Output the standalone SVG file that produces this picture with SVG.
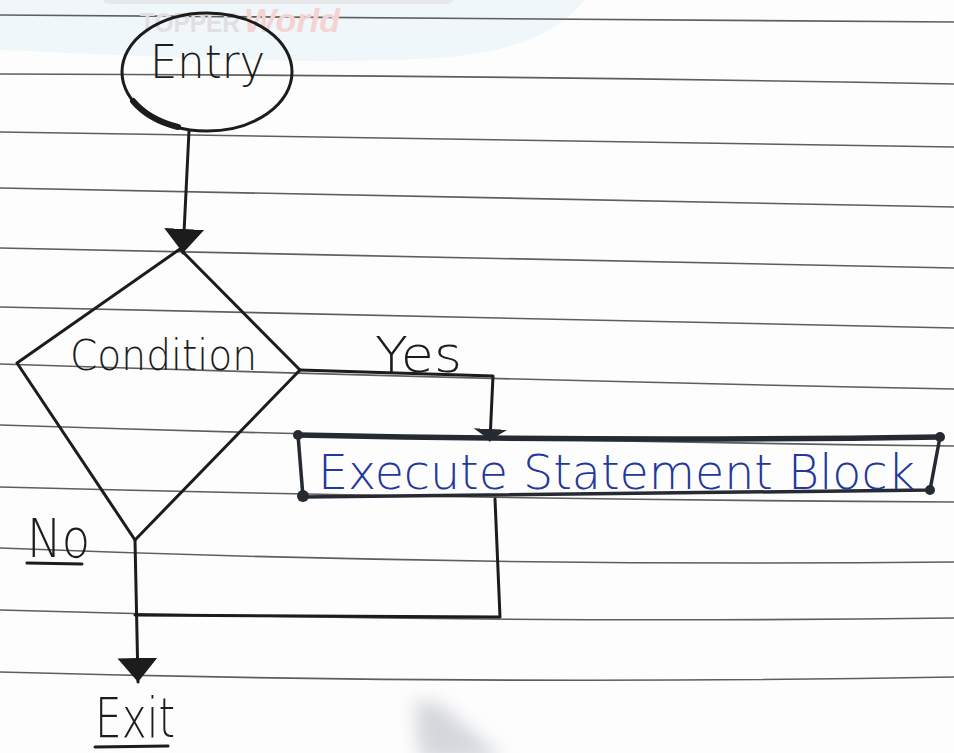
<svg xmlns="http://www.w3.org/2000/svg" width="954" height="753" viewBox="0 0 954 753">
  <defs>
    <style>
      .rule { fill: none; stroke: #5e5e5e; stroke-width: 1.6; }
      .ink { fill: none; stroke: #1c1c1c; stroke-width: 3; stroke-linecap: round; stroke-linejoin: round; }
      .box { fill: none; stroke: #262a33; stroke-width: 3.5; stroke-linecap: round; stroke-linejoin: round; }
      .dot { fill: #262a33; }
      .hand { font-family: "DejaVu Sans", "Liberation Sans", sans-serif; font-weight: 200; fill: #1c1c1c; }
      .blue { fill: #23379c; }
    </style>
    <marker id="head" viewBox="0 -21 26 42" refX="24" refY="0" markerWidth="26" markerHeight="42" markerUnits="userSpaceOnUse" orient="auto">
      <path d="M0,-20 L24,0 L0,20 Z" fill="#1c1c1c"/>
    </marker>
    <marker id="head-small" viewBox="0 -18 13 36" refX="11" refY="0" markerWidth="13" markerHeight="36" markerUnits="userSpaceOnUse" orient="auto">
      <path d="M0,-17 L11,0 L0,17 Z" fill="#262a33"/>
    </marker>
    <filter id="soft" x="-50%" y="-50%" width="200%" height="200%">
      <feGaussianBlur stdDeviation="9"/>
    </filter>
  </defs>

  <!-- paper -->
  <g id="paper">
    <rect width="954" height="753" fill="#fdfdfd"/>
    <path d="M0,0 H585 C560,30 520,52 440,58 C300,66 150,56 0,50 Z" fill="#f0f7fb"/>
    <rect x="103" y="-6" width="350" height="10" rx="5" fill="#e6e8ea"/>
    <g id="ruling">
      <path class="rule" d="M0,15 Q477,17.5 954,22"/>
      <path class="rule" d="M0,74 Q477,75 954,84"/>
      <path class="rule" d="M0,132 Q477,138.5 954,147"/>
      <path class="rule" d="M0,188 Q477,196.5 954,207"/>
      <path class="rule" d="M0,248 Q477,256 954,268"/>
      <path class="rule" d="M0,307 Q477,318.5 954,328"/>
      <path class="rule" d="M0,364 Q477,379.5 954,389"/>
      <path class="rule" d="M0,425 Q477,440.5 954,446"/>
      <path class="rule" d="M0,487 Q477,499.5 954,502"/>
      <path class="rule" d="M0,548 Q477,567 954,562"/>
      <path class="rule" d="M0,610 Q477,624 954,618"/>
      <path class="rule" d="M0,672 Q477,685.5 954,677"/>
    </g>
    <polygon points="414,700 440,704 505,760 420,760" fill="#c9cdd3" opacity="0.8" filter="url(#soft)"/>
  </g>

  <!-- watermark -->
  <g id="watermark">
    <text x="140" y="32" font-family="Liberation Sans, sans-serif" font-weight="bold" font-size="27" fill="#e0e0e0" textLength="100" lengthAdjust="spacingAndGlyphs">TOPPER</text>
    <text x="244" y="32" font-family="Liberation Sans, sans-serif" font-weight="bold" font-style="italic" font-size="34" fill="#f5d3d3" textLength="96" lengthAdjust="spacingAndGlyphs">World</text>
  </g>

  <!-- connectors -->
  <g id="connectors">
    <path class="ink" d="M189,131 L183,253" marker-end="url(#head)"/>
    <path class="ink" d="M300,370 L493,376 L490,440" marker-end="url(#head-small)"/>
    <path class="ink" d="M495,499 L500,617 L135,615"/>
    <path class="ink" d="M135,540 L138,682" marker-end="url(#head)"/>
  </g>

  <!-- entry terminal -->
  <g id="entry">
    <ellipse class="ink" cx="207" cy="72" rx="85" ry="59"/>
    <path d="M133,101 A85,59 0 0,0 178,127" fill="none" stroke="#1c1c1c" stroke-width="6" stroke-linecap="round"/>
    <text class="hand" x="150" y="78" font-size="46" textLength="115" lengthAdjust="spacingAndGlyphs">Entry</text>
  </g>

  <!-- decision -->
  <g id="condition">
    <polygon class="ink" points="180,249 300,370 135,540 17,363"/>
    <text class="hand" x="70" y="370" font-size="42" textLength="187" lengthAdjust="spacingAndGlyphs">Condition</text>
  </g>

  <!-- branch labels -->
  <g id="label-yes">
    <text class="hand" x="375" y="372" font-size="50" textLength="87" lengthAdjust="spacingAndGlyphs">Yes</text>
  </g>
  <g id="label-no">
    <text class="hand" x="27" y="557" font-size="54" fill="#333" textLength="63" lengthAdjust="spacingAndGlyphs">No</text>
    <path class="ink" d="M27,563 L82,564" stroke-width="2.5"/>
  </g>

  <!-- process block -->
  <g id="execute-block">
    <path class="box" d="M298,435 L303,497 L930,490 L940,437"/>
    <path d="M298,435 Q620,442 940,437" fill="none" stroke="#262a33" stroke-width="5.5" stroke-linecap="round"/>
    <circle class="dot" cx="298" cy="435" r="5"/>
    <circle class="dot" cx="940" cy="437" r="5"/>
    <circle class="dot" cx="930" cy="490" r="5"/>
    <circle class="dot" cx="303" cy="496" r="6"/>
    <text class="hand blue" x="318" y="489" font-size="48" textLength="597" lengthAdjust="spacingAndGlyphs">Execute Statement Block</text>
  </g>

  <!-- exit terminal -->
  <g id="exit">
    <text class="hand" x="95" y="737" font-size="56" textLength="80" lengthAdjust="spacingAndGlyphs">Exit</text>
    <path class="ink" d="M95,747 L168,746" stroke-width="2.5"/>
  </g>
</svg>
